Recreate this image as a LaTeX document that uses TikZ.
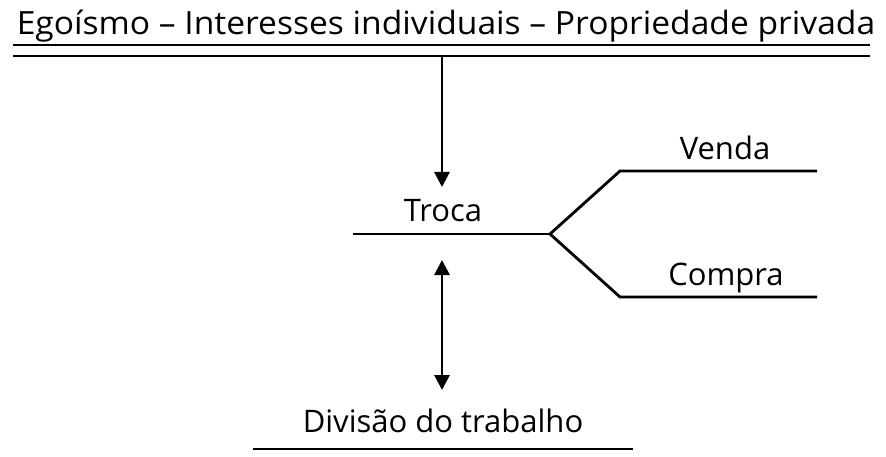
\documentclass[tikz,border=0pt]{standalone}
\usepackage{fontspec}
\setmainfont{Open Sans}
\usetikzlibrary{arrows.meta}
\begin{document}
\begin{tikzpicture}[x=1pt,y=-1pt,
  lbl/.style={font=\fontsize{31}{36}\selectfont, inner sep=0pt, anchor=base},
  rule/.style={line width=2.8pt},
  arr/.style={line width=2.8pt, -{Triangle[width=15pt,length=15pt]}},
  darr/.style={line width=2.8pt, {Triangle[width=15pt,length=15pt]}-{Triangle[width=15pt,length=15pt]}}]
\useasboundingbox (0,0) rectangle (886,457);
% title
\node[lbl, font=\fontsize{32}{36}\selectfont] (title) at (446,35) {\scalebox{1.05}[1]{Egoísmo – Interesses individuais – Propriedade privada}};
\coordinate (d1a) at (13,45); \coordinate (d1b) at (870,45);
\coordinate (d2a) at (13,56); \coordinate (d2b) at (870,56);
\draw[rule] (d1a) -- (d1b);
\draw[rule] (d2a) -- (d2b);
% troca
\node[lbl] (troca) at (443,222) {Troca};
\coordinate (tl) at (353,234); \coordinate (tr) at (550,234);
\draw[rule] (tl) -- (tr);
\coordinate (top) at (442,56);
\coordinate (tail) at (442,187);
\draw[arr] (top) -- (tail);
% branches
\coordinate (va) at (620,171); \coordinate (vb) at (817,171);
\coordinate (ca) at (620,297); \coordinate (cb) at (817,297);
\draw[rule, line join=miter] (vb) -- (va) -- (tr) -- (ca) -- (cb);
\node[lbl] (venda) at (725,160) {Venda};
\node[lbl] (compra) at (726,285) {Compra};
% divisao
\coordinate (u1) at (442,260); \coordinate (u2) at (442,390);
\draw[darr] (u1) -- (u2);
\node[lbl] (div) at (443,432) {Divisão do trabalho};
\coordinate (bl) at (253,449); \coordinate (br) at (633,449);
\draw[rule] (bl) -- (br);
\end{tikzpicture}
\end{document}
